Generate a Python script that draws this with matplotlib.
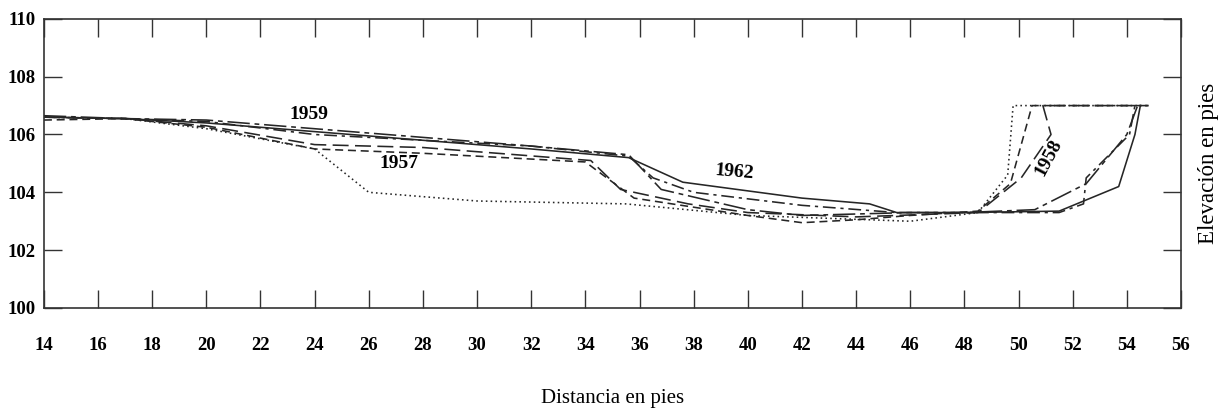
import numpy as np
from matplotlib import pyplot as plt

# perfiles de la seccion transversal (distancia en pies, elevacion en pies)
x_solid = [14, 17, 20, 24, 28, 32, 35.6, 37.6, 42, 44.5, 45.5, 48, 51.5, 53.7, 54.3, 54.5]
y_solid = [106.6, 106.55, 106.4, 106.1, 105.8, 105.5, 105.2, 104.35, 103.8, 103.6, 103.3, 103.3, 103.35, 104.2, 106.0, 107.0]

x_dot = [14, 17, 20, 24, 26, 30, 35.5, 40, 46, 48.5, 49.6, 49.8, 54.8]
y_dot = [106.6, 106.55, 106.2, 105.5, 104.0, 103.7, 103.6, 103.2, 103.0, 103.3, 104.6, 107.0, 107.0]

x_dash = [14, 17, 20, 24, 28, 34, 35.8, 40, 42, 44, 46, 48.5, 49.7, 50.5, 54.8]
y_dash = [106.5, 106.55, 106.25, 105.5, 105.35, 105.05, 103.8, 103.2, 102.95, 103.05, 103.2, 103.35, 104.3, 107.0, 107.0]

x_long = [14, 17, 20, 24, 28, 34.2, 35.3, 37.8, 40, 44, 48.5, 50.1, 51.2, 50.9, 54.8]
y_long = [106.6, 106.55, 106.3, 105.65, 105.55, 105.1, 104.1, 103.6, 103.3, 103.15, 103.3, 104.5, 106.0, 107.0, 107.0]

x_dd = [14, 17, 20, 24, 28, 32, 35.6, 36.5, 38, 42, 45.5, 48, 51.5, 52.4, 52.5, 54.1, 54.3]
y_dd = [106.6, 106.55, 106.45, 106.0, 105.8, 105.6, 105.25, 104.5, 104.0, 103.55, 103.3, 103.3, 103.3, 103.6, 104.5, 106.0, 107.0]

x_ldd = [14, 17, 20, 24, 28, 32, 35.6, 36.8, 40, 42, 46, 48, 50.6, 52.5, 54.0, 54.4]
y_ldd = [106.65, 106.55, 106.5, 106.2, 105.9, 105.6, 105.3, 104.1, 103.4, 103.2, 103.3, 103.3, 103.4, 104.3, 106.0, 107.0]

years = ['1959', '1957', '1962', '1958']
year_x = [23.8, 27.1, 39.5, 51.1]
year_y = [106.68, 105.0, 104.7, 105.2]
year_rot = [0, 0, -5, 62]

xticks = np.arange(14, 57, 2)
yticks = np.arange(100, 111, 2)

plt.rcParams['font.family'] = ['Liberation Serif', 'DejaVu Serif']

fig = plt.figure(figsize=(12.2, 4.19), dpi=100)
ax = fig.add_axes([0.036, 0.265, 0.932, 0.69])

c = '#262626'
lw = 1.15
ax.plot(x_solid, y_solid, color=c, lw=lw, ls='-')
ax.plot(x_dot, y_dot, color=c, lw=lw, ls=(0, (1, 2)))
ax.plot(x_dash, y_dash, color=c, lw=lw, ls=(0, (5, 3)))
ax.plot(x_long, y_long, color=c, lw=lw, ls=(0, (10, 4)))
ax.plot(x_dd, y_dd, color=c, lw=lw, ls=(0, (8, 3, 2, 3)))
ax.plot(x_ldd, y_ldd, color=c, lw=lw, ls=(0, (14, 3, 3, 3)))

for t, xx, yy, r in zip(years, year_x, year_y, year_rot):
	ax.text(xx, yy, t, fontsize=14, fontweight='bold', ha='center', va='center', rotation=r)

ax.set_xlim(14, 56)
ax.set_ylim(100, 110)
ax.set_xticks(xticks)
ax.set_yticks(yticks)
ax.set_xticklabels([str(v) for v in xticks], fontsize=13.5, fontweight='bold')
ax.set_yticklabels([str(v) for v in yticks], fontsize=13.5, fontweight='bold')
ax.tick_params(axis='x', direction='in', length=13, width=1, top=True, pad=21, color='#333')
ax.tick_params(axis='y', direction='in', length=13, width=1, right=True, pad=6, color='#333')
for s in ax.spines.values():
	s.set_linewidth(1.2)
	s.set_color('#333')

ax.set_xlabel('Distancia en pies', fontsize=15)
ax.xaxis.set_label_coords(0.5, -0.28)
ax.yaxis.set_label_position('right')
ax.set_ylabel('Elevación en pies', fontsize=16.5, labelpad=12)

plt.savefig('out.png', dpi=100)
